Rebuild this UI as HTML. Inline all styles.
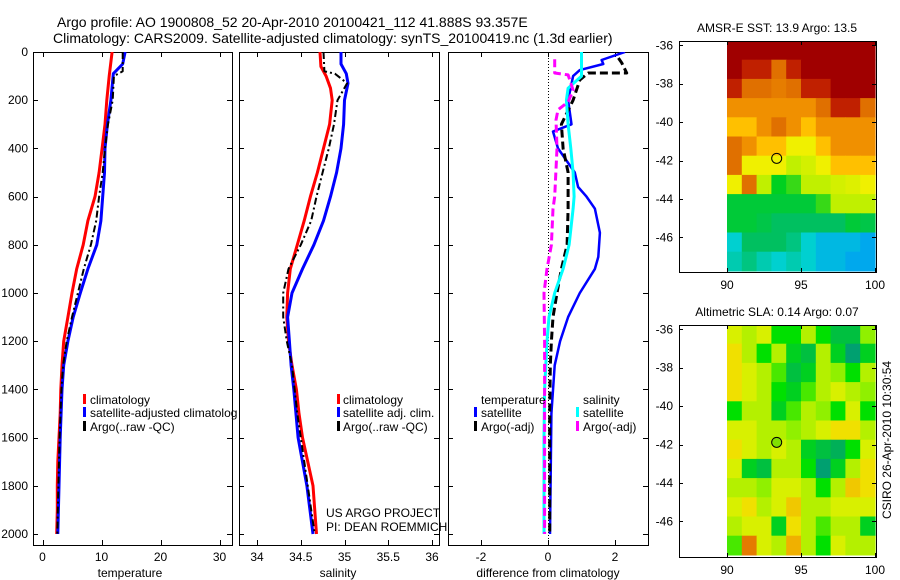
<!DOCTYPE html>
<html><head><meta charset="utf-8"><style>
body{margin:0;background:#fff}
svg{display:block;font-family:"Liberation Sans",sans-serif}
text{fill:#000}
</style></head><body>
<svg id="fig" width="900" height="580" viewBox="0 0 900 580" xmlns="http://www.w3.org/2000/svg">
<defs>
<clipPath id="cp1"><rect x="33" y="52" width="199" height="493"/></clipPath>
<clipPath id="cp2"><rect x="239" y="52" width="200" height="493"/></clipPath>
<clipPath id="cp3"><rect x="448" y="52" width="200" height="493"/></clipPath>
<clipPath id="cpl1"><rect x="33" y="52" width="204" height="493"/></clipPath>
<clipPath id="cpm1"><rect x="679" y="41" width="197" height="231"/></clipPath>
<clipPath id="cpm2"><rect x="679" y="325" width="197" height="232"/></clipPath>
</defs>
<text x="57" y="27" font-size="14">Argo profile: AO 1900808_52 20-Apr-2010 20100421_112 41.888S 93.357E</text>
<text x="53" y="43" font-size="14">Climatology: CARS2009. Satellite-adjusted climatology: synTS_20100419.nc (1.3d earlier)</text>
<g id="root"></g>
</svg>
<script>
// ---------- data ----------
const depthTicks = [0,200,400,600,800,1000,1200,1400,1600,1800,2000];
const tempTicks = [0,10,20,30];
const salTicks = [34,34.5,35,35.5,36];
const diffTicks = [-2,0,2];

const tClimDepth = [0,100,200,300,400,500,600,700,800,900,1000,1100,1200,1300,1400,1500,1600,1700,1800,1900,2000];
const tClim = [11.8,11.3,10.9,10.6,10.1,9.6,8.9,7.7,6.9,5.8,5.0,4.3,3.6,3.3,3.1,3.0,2.8,2.6,2.5,2.5,2.4];
const tSatDepth = [0,50,90,200,300,400,500,600,700,800,900,1000,1100,1200,1300,1400,1600,1800,2000];
const tSat = [14,13.6,12,11.6,11.0,10.6,10.5,10.2,9.9,9.2,7.7,6.4,5.2,4.3,3.6,3.3,3.0,2.8,2.6];
const tArgoDepth = [0,80,100,200,300,400,500,600,700,800,900,1000,1100,1200,1300,1400,1600,1800,2000];
const tArgo = [13.6,13.6,12.1,11.9,11.1,10.6,10.2,9.6,9.1,8.2,7.0,6.0,5.0,4.1,3.5,3.2,2.9,2.7,2.5];

const sClimDepth = [0,60,100,150,200,300,400,500,600,700,800,900,1000,1100,1200,1300,1400,1500,1600,1800,2000];
const sClim = [34.72,34.73,34.79,34.84,34.86,34.83,34.76,34.69,34.61,34.54,34.46,34.38,34.35,34.34,34.36,34.40,34.45,34.48,34.52,34.64,34.68];
const sSatDepth = [0,50,90,130,200,300,400,500,600,700,800,900,1000,1100,1200,1300,1400,1600,1800,2000];
const sSat = [34.96,34.96,35.02,35.04,35.0,34.99,34.96,34.91,34.84,34.76,34.65,34.52,34.40,34.35,34.37,34.39,34.42,34.47,34.57,34.64];
const sArgoDepth = [0,80,90,130,200,300,400,500,600,700,800,900,1000,1100,1200,1300,1500,2000];
const sArgo = [34.76,34.77,34.89,35.03,34.92,34.88,34.82,34.75,34.68,34.62,34.50,34.36,34.30,34.30,34.34,34.40,34.46,34.66];

const dTSatDepth = [0,33,50,75,100,200,300,330,400,500,560,600,650,750,850,900,1000,1100,1200,1300,1500,2000];
const dTSat = [2.3,1.6,1.65,0.95,0.75,0.6,0.7,0.15,0.3,0.8,0.9,1.15,1.4,1.55,1.5,1.4,0.95,0.6,0.36,0.2,0.1,0.06];
const dTArgoDepth = [25,45,87,87,116,200,300,400,500,650,800,900,1000,1100,1200,1300,1500,2000];
const dTArgo = [2.1,2.2,2.35,1.2,0.95,0.75,0.4,0.45,0.6,0.6,0.57,0.4,0.27,0.15,0.1,0.07,0.05,0.05];
const dSSatDepth = [0,100,150,200,300,400,500,600,650,800,900,1000,1100,1200,1400,1600,2000];
const dSSat = [1.0,1.0,0.6,0.55,0.6,0.68,0.75,0.78,0.75,0.63,0.45,0.2,0.03,-0.03,-0.1,-0.12,-0.12];
const dSArgoDepth = [30,87,95,158,207,240,282,400,600,650,800,900,1000,1200,2000];
const dSArgo = [0.2,0.2,0.6,0.75,0.6,0.3,0.24,0.27,0.2,0.15,0.1,-0.03,-0.12,-0.1,-0.1];

const mapLonTicks = [90,95,100];
const mapLatTicks = [-36,-38,-40,-42,-44,-46];
const sstGrid = [
[16,16,16,16,16,16,16,16,16,16],
[16,15.5,15.5,15,15.5,16,16,16,16,16],
[15.5,15,15,14.8,15,15.5,15.5,16,16,16],
[14.5,14.5,14.5,14.5,14.5,14.5,15,15.5,15.5,15],
[14,14,14.5,15,14.5,14,14.5,14.5,14.5,14.5],
[15,14.5,14,14,13.5,13.5,14,14.5,14.5,14.5],
[15,13.5,13.5,13.5,13,13.2,13.5,14,14,14],
[13.5,15,13,12.3,12.5,13,13,13.2,13.3,13.5],
[12,12,12,12,12,12,12.5,13,13,13],
[12,12,11.8,11.5,11.5,11.5,11.5,11.5,12,11.8],
[10.8,11.5,11.5,11.5,11.3,10.8,10.5,10.5,10.5,10.3],
[11,11.3,11,10.8,11,10.8,10.5,10.5,10.3,10.3]];
const slaGrid = [
[0.1,0.05,0.1,-0.1,-0.1,0.05,-0.1,-0.2,-0.2,0],
[0.15,0.05,-0.1,0.05,-0.15,-0.2,0.05,-0.15,-0.3,-0.15],
[0.15,0.1,0.05,-0.05,-0.2,-0.15,0.05,0,-0.1,0.05],
[0.15,0.1,0.05,-0.1,-0.15,-0.05,0.05,0.1,0.05,0],
[-0.1,0.05,0.05,-0.15,-0.05,0.05,0,-0.1,0.1,-0.1],
[0.1,0.1,0.05,0.05,0,0.05,0.1,0.15,0.15,0.05],
[0.15,0.1,0.05,0.1,0.05,-0.15,-0.2,-0.25,-0.1,0.1],
[0.1,-0.15,-0.2,0.05,0.05,-0.1,-0.3,-0.15,0.05,0.15],
[0.05,0.05,0.0,0.1,0.1,0.05,-0.1,0.05,0.2,0.15],
[0.1,0.15,0.05,0.1,0.2,0.05,0.05,0.1,0.1,0.1],
[0.05,0.1,0.1,-0.15,0.15,0.05,-0.05,0.05,0.05,-0.15],
[-0.05,0.35,0.1,0.05,0.25,0.05,-0.1,0.1,0.05,0.05]];
const floatLon = 93.357, floatLat = -41.888;

// ---------- helpers ----------
const NS = "http://www.w3.org/2000/svg";
const root = document.getElementById('root');
function mk(tag, attrs, parent){const e=document.createElementNS(NS,tag);for(const k in attrs)e.setAttribute(k,attrs[k]);(parent||root).appendChild(e);return e;}
function txt(x,y,s,size,anchor,parent){const t=mk('text',{x:x,y:y,'font-size':size||12,'text-anchor':anchor||'start'},parent);t.textContent=s;return t;}
const top0=52, bot0=545;
const yD = d => top0 + d*0.241;
function lin(d0,p0,d1,p1){return v=>p0+(v-d0)*(p1-p0)/(d1-d0);}
const xT = lin(0,42.5,30,219.5);
const xS = lin(34,257,36,432);
const xDf = lin(-2,481,2,615);

function panel(x0,x1,name){
  const g=mk('g',{});
  
  
  mk('rect',{x:x0+0.5,y:top0+0.5,width:x1-x0,height:bot0-top0,fill:'none',stroke:'#000','stroke-width':1},g);
  depthTicks.forEach(d=>{const y=Math.round(yD(d))+0.5;
    mk('line',{x1:x0,x2:x0+5,y1:y,y2:y,stroke:'#000'},g);
    mk('line',{x1:x1-5,x2:x1,y1:y,y2:y,stroke:'#000'},g);});
  return g;
}
function xticks(g,ticks,fx,labelFmt){
  ticks.forEach(v=>{const x=Math.round(fx(v))+0.5;
    mk('line',{x1:x,x2:x,y1:bot0-5,y2:bot0,stroke:'#000'},g);
    mk('line',{x1:x,x2:x,y1:top0,y2:top0+5,stroke:'#000'},g);
    const t=txt(fx(v),561,labelFmt?labelFmt(v):String(v),12,'middle',g);
    
    });
}
function profile(depths,vals,fx,color,width,dash,clip,name){
  const pts=depths.map((d,i)=>fx(vals[i]).toFixed(1)+','+yD(d).toFixed(1)).join(' ');
  const p=mk('polyline',{points:pts,fill:'none',stroke:color,'stroke-width':width,'stroke-dasharray':dash||'none','clip-path':'url(#'+clip+')','stroke-linejoin':'round'});
  
  
  return p;
}
function legendEntry(mx,tx,y,color,label,clip,name){
  const g=mk('g',clip?{'clip-path':'url(#'+clip+')'}:{});
  
  
  mk('rect',{x:mx,y:y-10,width:3,height:10,fill:color},g);
  txt(tx,y,label,12,'start',g);
}

// ---------- panel 1: temperature ----------
const g1=panel(33,232,'temperature-panel');
xticks(g1,tempTicks,xT);
depthTicks.forEach(d=>{const t=txt(28,yD(d)+4,String(d),12,'end');
  
  });
const xl1=txt(130,577,'temperature',12,'middle');


profile(tClimDepth,tClim,xT,'#ff0000',3,null,'cp1','temp-climatology-line');
profile(tSatDepth,tSat,xT,'#0000ff',3,null,'cp1','temp-satellite-line');
profile(tArgoDepth,tArgo,xT,'#000000',2,'7,3,2,3','cp1','temp-argo-line');
legendEntry(83,90,404,'#ff0000','climatology','cpl1','legend-climatology');
legendEntry(83,90,417,'#0000ff','satellite-adjusted climatology','cpl1','legend-satellite-adjusted');
legendEntry(83,90,431,'#000000','Argo(..raw -QC)','cpl1','legend-argo-raw');

// ---------- panel 2: salinity ----------
const g2=panel(239,439,'salinity-panel');
xticks(g2,salTicks,xS);
const xl2=txt(338,577,'salinity',12,'middle');


profile(sClimDepth,sClim,xS,'#ff0000',3,null,'cp2','sal-climatology-line');
profile(sSatDepth,sSat,xS,'#0000ff',3,null,'cp2','sal-satellite-line');
profile(sArgoDepth,sArgo,xS,'#000000',2,'7,3,2,3','cp2','sal-argo-line');
legendEntry(337,343,404,'#ff0000','climatology',null,'legend-sal-climatology');
legendEntry(337,343,417,'#0000ff','satellite adj. clim.',null,'legend-sal-satellite');
legendEntry(337,343,431,'#000000','Argo(..raw -QC)',null,'legend-sal-argo');
const c1=txt(326,517,'US ARGO PROJECT',12);


const c2=txt(326,531,'PI: DEAN ROEMMICH',12);



// ---------- panel 3: differences ----------
const g3=panel(448,648,'difference-panel');
xticks(g3,diffTicks,xDf);
const xl3=txt(548,577,'difference from climatology',12,'middle');


const zl=mk('line',{x1:xDf(0)+0.5,x2:xDf(0)+0.5,y1:top0,y2:bot0,stroke:'#000','stroke-dasharray':'1,2'});


profile(dTSatDepth,dTSat,xDf,'#0000ff',2.5,null,'cp3','diff-temp-satellite-line');
profile(dTArgoDepth,dTArgo,xDf,'#000000',3,'8,4','cp3','diff-temp-argo-line');
profile(dSSatDepth,dSSat,xDf,'#00ffff',3,null,'cp3','diff-sal-satellite-line');
profile(dSArgoDepth,dSArgo,xDf,'#ff00ff',3,'8,4','cp3','diff-sal-argo-line');
const lt=txt(481,404,'temperature',12);


const ls=txt(583,404,'salinity',12);


legendEntry(474,481,417,'#0000ff','satellite',null,'legend-diff-temp-satellite');
legendEntry(474,481,431,'#000000','Argo(-adj)',null,'legend-diff-temp-argo');
legendEntry(576,583,417,'#00ffff','satellite',null,'legend-diff-sal-satellite');
legendEntry(576,583,431,'#ff00ff','Argo(-adj)',null,'legend-diff-sal-argo');

// ---------- maps ----------
function hex(c){return [parseInt(c.slice(1,3),16),parseInt(c.slice(3,5),16),parseInt(c.slice(5,7),16)];}
function cmap(stops,v){
  if(v<=stops[0][0])return stops[0][1];
  for(let i=1;i<stops.length;i++){if(v<=stops[i][0]){const [a,ca]=stops[i-1],[b,cb]=stops[i];const t=(v-a)/(b-a);
    const A=hex(ca),B=hex(cb);return 'rgb('+A.map((x,j)=>Math.round(x+(B[j]-x)*t)).join(',')+')';}}
  return stops[stops.length-1][1];
}
const sstStops=[[10,'#0090ff'],[10.8,'#00d0d0'],[11.5,'#00c060'],[12.3,'#00d020'],[13,'#c0f000'],[13.5,'#f0f000'],[14,'#ffc000'],[14.5,'#f09000'],[15,'#e07000'],[15.5,'#c02000'],[16,'#a00000']];
const slaStops=[[-0.3,'#00a070'],[-0.2,'#00c040'],[-0.1,'#00e000'],[0,'#90f000'],[0.1,'#d8f000'],[0.15,'#f0e000'],[0.25,'#f0b000'],[0.4,'#e06000']];

function drawMap(top,bottom,grid,stops,clip,title,name,filledMarker){
  const left=679,right=876;
  const xL=lin(90,727,100,875);
  const yL=lin(-36,top+4.3,-46,top+4.3+192);
  const g=mk('g',{});
  
  
  const cells=mk('g',{'clip-path':'url(#'+clip+')'},g);
  grid.forEach((row,r)=>row.forEach((v,c)=>{
    const x0=xL(90+c),x1=xL(91+c),y0=yL(-35.75-r),y1=yL(-36.75-r);
    const cell=mk('rect',{x:x0.toFixed(1),y:y0.toFixed(1),width:(x1-x0+0.6).toFixed(1),height:(y1-y0+0.6).toFixed(1),fill:cmap(stops,v)},cells);
    
    
  }));
  mk('rect',{x:left+0.5,y:top+0.5,width:right-left,height:bottom-top,fill:'none',stroke:'#000'},g);
  mapLonTicks.forEach(v=>{const x=Math.round(xL(v))+0.5;
    mk('line',{x1:x,x2:x,y1:bottom-4,y2:bottom,stroke:'#000'},g);
    mk('line',{x1:x,x2:x,y1:top,y2:top+4,stroke:'#000'},g);
    const t=txt(xL(v),bottom+17,String(v),12,'middle',g);
    
    });
  mapLatTicks.forEach(v=>{const y=Math.round(yL(v))+0.5;
    mk('line',{x1:left,x2:left+4,y1:y,y2:y,stroke:'#000'},g);
    mk('line',{x1:right-4,x2:right,y1:y,y2:y,stroke:'#000'},g);
    const t=txt(673,yL(v)+4,String(v),12,'end',g);
    
    });
  const m=mk('circle',{cx:xL(floatLon),cy:yL(floatLat),r:5,fill:filledMarker?'#80e000':'none',stroke:'#000','stroke-width':1},g);
  
  
  const tt=txt(777,top-9,title,12,'middle',g);
  
  
}
drawMap(41,272,sstGrid,sstStops,'cpm1','AMSR-E SST: 13.9 Argo: 13.5','sst-map',false);
drawMap(325,557,slaGrid,slaStops,'cpm2','Altimetric SLA: 0.14 Argo: 0.07','sla-map',true);

const cs=txt(0,0,'CSIRO 26-Apr-2010 10:30:54',12,'middle');
cs.setAttribute('transform','translate(891,440) rotate(-90)');


</script>
</body></html>
